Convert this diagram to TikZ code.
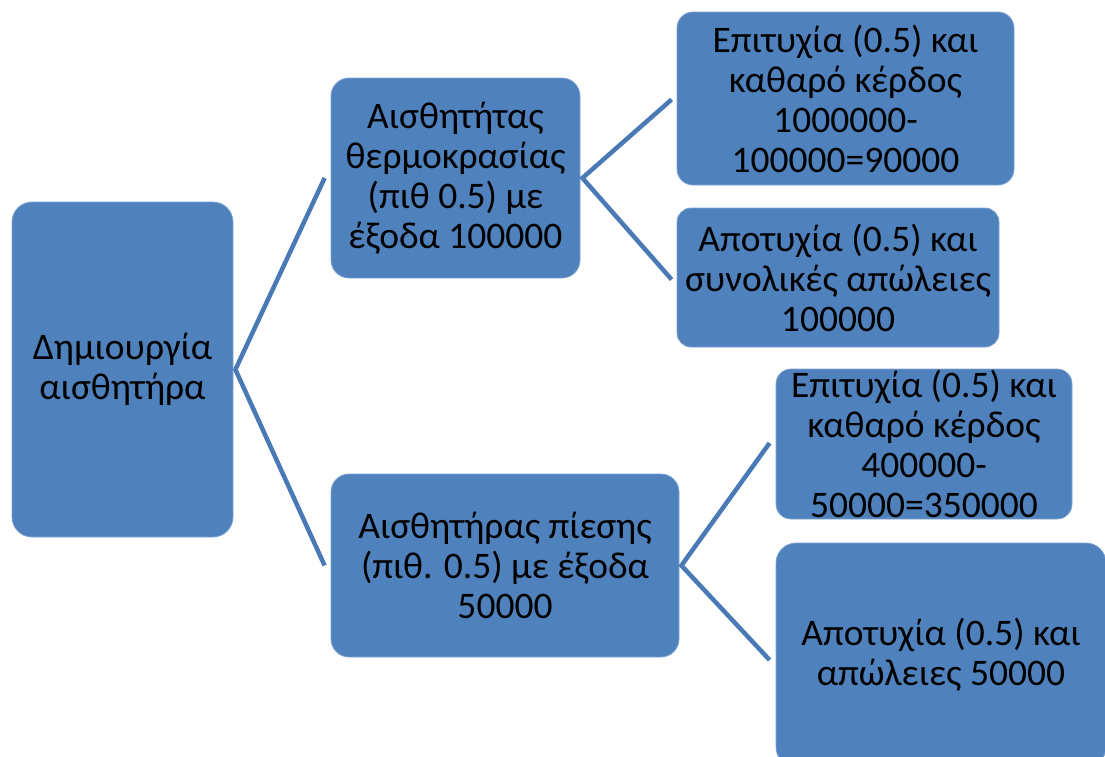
\documentclass[tikz,border=0pt]{standalone}
\usepackage{fontspec}
\setmainfont{Carlito}
\definecolor{boxblue}{HTML}{4F81BD}
\definecolor{boxedge}{HTML}{7FA3D0}
\definecolor{linkblue}{HTML}{4A7AB6}

\begin{document}
\begin{tikzpicture}[x=1pt,y=-1pt,
  box/.style={draw=boxedge, line width=0.8pt, fill=boxblue, inner sep=0pt,
    align=center, text=black, font=\fontsize{37.5}{40}\selectfont},
  link/.style={draw=linkblue, line width=4.5pt}]
\useasboundingbox (0,0) rectangle (1105,756);
\clip (0,0) rectangle (1105,756);

% decision tree boxes
\node[box, minimum width=221pt, minimum height=335pt, rounded corners=20pt]
  (root) at (122.5,369.5) {Δημιουργία\\αισθητήρα};
\node[box, minimum width=249pt, minimum height=200pt, rounded corners=18pt]
  (temp) at (455.5,178) {Αισθητήτας\\θερμοκρασίας\\(πιθ 0.5) με\\έξοδα 100000};
\node[box, minimum width=348pt, minimum height=183pt, rounded corners=18pt]
  (press) at (505,565.5) {Αισθητήρας πίεσης\\(πιθ. 0.5) με έξοδα\\50000};
\node[box, minimum width=337pt, minimum height=173pt, rounded corners=16pt]
  (tempok) at (845.5,98.5) {Επιτυχία (0.5) και\\καθαρό κέρδος\\1000000-\\100000=90000};
\node[box, minimum width=322pt, minimum height=139pt, rounded corners=14pt]
  (tempfail) at (838,277.5) {Αποτυχία (0.5) και\\συνολικές απώλειες\\100000};
\node[box, minimum width=296pt, minimum height=150pt, rounded corners=15pt]
  (pressok) at (924,444) {Επιτυχία (0.5) και\\καθαρό κέρδος\\400000-\\50000=350000};
\node[box, minimum width=330pt, minimum height=224pt, rounded corners=20pt]
  (pressfail) at (941,655) {Αποτυχία (0.5) και\\απώλειες 50000};

% connector end points
\coordinate (rootout) at ([xshift=2pt]root.east);
\coordinate (tempout) at ([xshift=2pt]temp.east);
\coordinate (pressout) at ([xshift=2pt]press.east);
\coordinate (tempin) at ([xshift=-6pt]temp.west);
\coordinate (pressin) at ([xshift=-6pt]press.west);
\coordinate (tempokin) at ([xshift=-5pt,yshift=-1pt]tempok.west);
\coordinate (tempfailin) at ([xshift=-5pt,yshift=-2pt]tempfail.west);
\coordinate (pressokin) at ([xshift=-6pt,yshift=1pt]pressok.west);
\coordinate (pressfailin) at ([xshift=-6pt,yshift=-5pt]pressfail.west);

% connectors
\draw[link] (tempin) -- (rootout) -- (pressin);
\draw[link] (tempokin) -- (tempout) -- (tempfailin);
\draw[link] (pressokin) -- (pressout) -- (pressfailin);
\end{tikzpicture}
\end{document}
